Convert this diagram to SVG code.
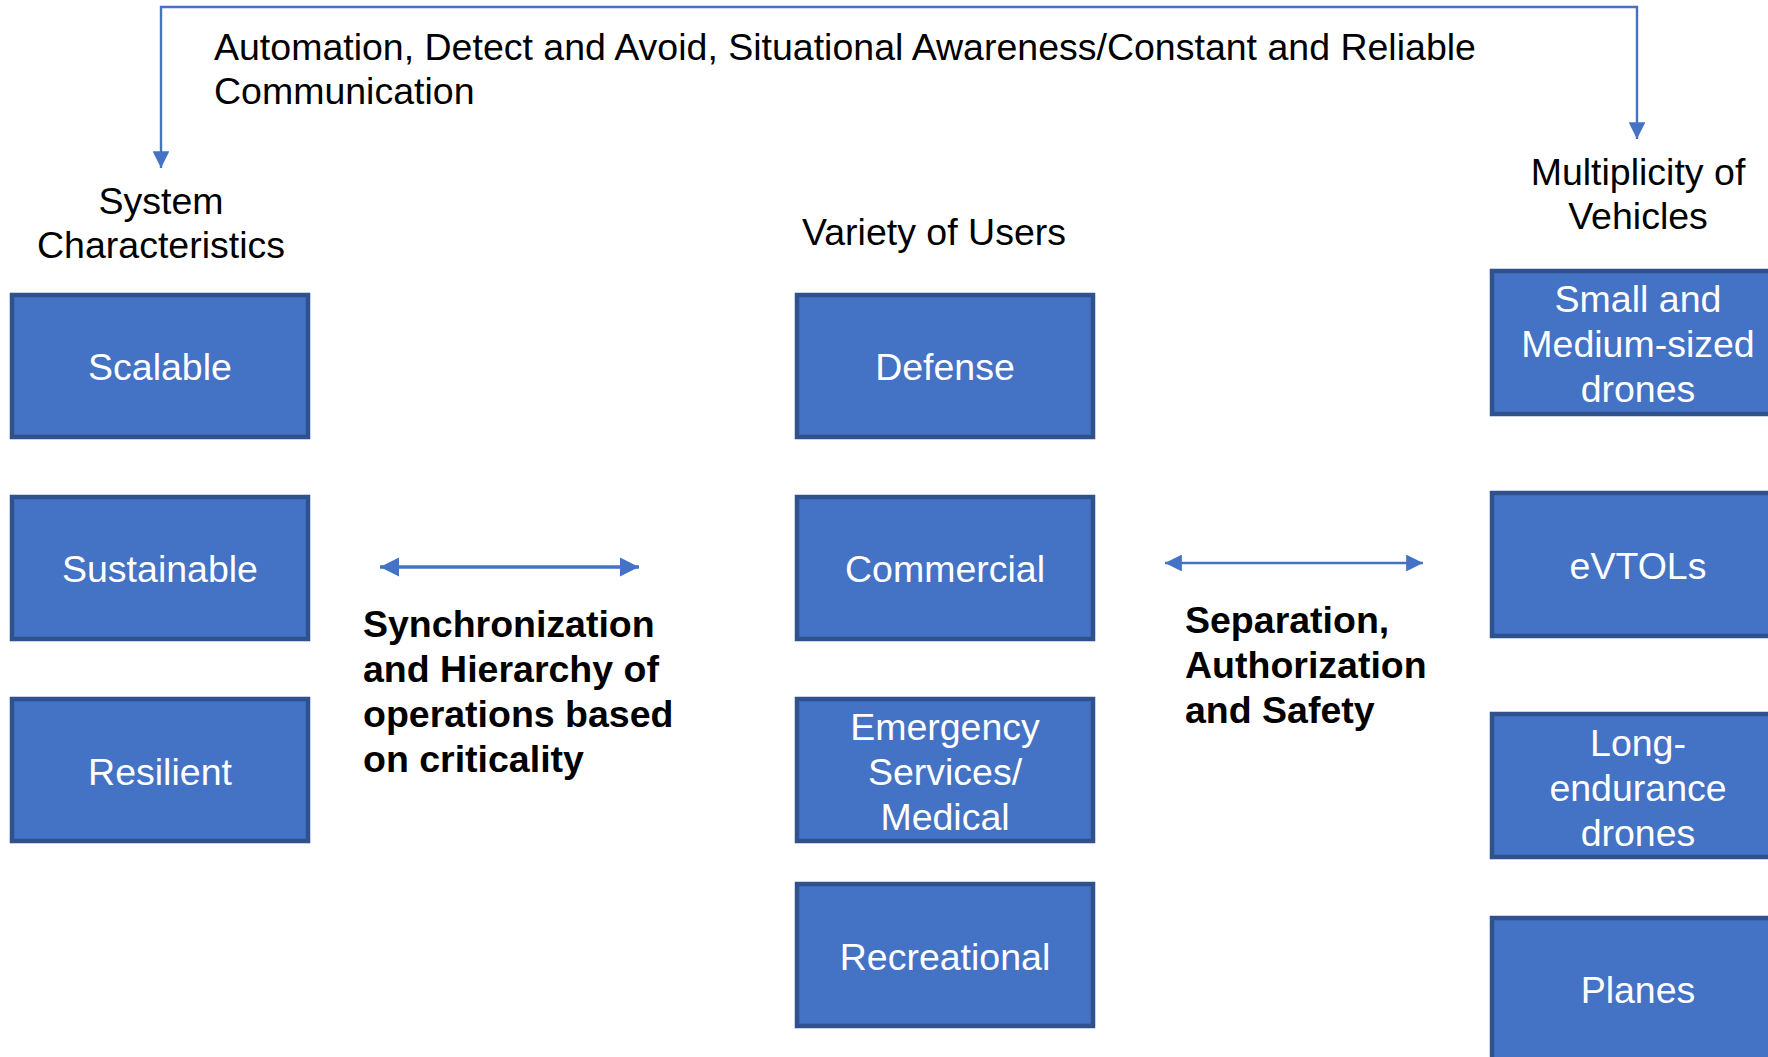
<svg xmlns="http://www.w3.org/2000/svg" width="1768" height="1057" viewBox="0 0 1768 1057">
<defs>
<style>
.box{fill:#4472C4;stroke:#2F528F;stroke-width:4.5}
.bt{fill:#fff;font-family:"Liberation Sans",Arial,sans-serif;font-size:37.5px;text-anchor:middle}
.hd{fill:#000;font-family:"Liberation Sans",Arial,sans-serif;font-size:37.5px;text-anchor:middle}
.lb{fill:#000;font-family:"Liberation Sans",Arial,sans-serif;font-size:37.5px;font-weight:bold}
.tt{fill:#000;font-family:"Liberation Sans",Arial,sans-serif;font-size:37.5px}
.con{fill:none;stroke:#4472C4}
</style>
<marker id="ah" viewBox="0 0 10 10" refX="10" refY="5" markerWidth="7" markerHeight="7" orient="auto-start-reverse" markerUnits="strokeWidth">
<path d="M0,0 L10,5 L0,10 z" fill="#4472C4"/>
</marker>
<marker id="ah2" viewBox="0 0 10 10" refX="10" refY="5" markerWidth="5.5" markerHeight="5.5" orient="auto-start-reverse" markerUnits="strokeWidth">
<path d="M0,0 L10,5 L0,10 z" fill="#4472C4"/>
</marker>
<marker id="ah3" viewBox="0 0 10 10" refX="10" refY="5" markerWidth="6.5" markerHeight="6.5" orient="auto-start-reverse" markerUnits="strokeWidth">
<path d="M0,0 L10,5 L0,10 z" fill="#4472C4"/>
</marker>
</defs>
<rect width="1768" height="1057" fill="#fff"/>
<g id="connectors">
<path class="con" d="M161,168 L161,7 L1637,7 L1637,139" stroke-width="2.4" marker-start="url(#ah)" marker-end="url(#ah)"/>
<line class="con" x1="380" y1="567" x2="639" y2="567" stroke-width="3.5" marker-start="url(#ah2)" marker-end="url(#ah2)"/>
<line class="con" x1="1165" y1="563" x2="1423" y2="563" stroke-width="2.6" marker-start="url(#ah3)" marker-end="url(#ah3)"/>
</g>
<g id="label-top">
<text class="tt" x="214" y="60">Automation, Detect and Avoid, Situational Awareness/Constant and Reliable</text>
<text class="tt" x="214" y="104">Communication</text>
</g>
<g id="header-system"><text class="hd" x="161" y="214">System</text><text class="hd" x="161" y="258">Characteristics</text></g>
<g id="header-users"><text class="hd" x="934" y="245">Variety of Users</text></g>
<g id="header-vehicles"><text class="hd" x="1638" y="185">Multiplicity of</text><text class="hd" x="1638" y="229">Vehicles</text></g>
<g id="n-scalable"><rect class="box" x="12" y="295" width="296" height="142"/><text class="bt" x="160" y="380">Scalable</text></g>
<g id="n-sustainable"><rect class="box" x="12" y="497" width="296" height="142"/><text class="bt" x="160" y="582">Sustainable</text></g>
<g id="n-resilient"><rect class="box" x="12" y="699" width="296" height="142"/><text class="bt" x="160" y="785">Resilient</text></g>
<g id="n-defense"><rect class="box" x="797" y="295" width="296" height="142"/><text class="bt" x="945" y="380">Defense</text></g>
<g id="n-commercial"><rect class="box" x="797" y="497" width="296" height="142"/><text class="bt" x="945" y="582">Commercial</text></g>
<g id="n-emergency"><rect class="box" x="797" y="699" width="296" height="142"/><text class="bt" x="945" y="740">Emergency</text><text class="bt" x="945" y="785">Services/</text><text class="bt" x="945" y="830">Medical</text></g>
<g id="n-recreational"><rect class="box" x="797" y="884" width="296" height="142"/><text class="bt" x="945" y="970">Recreational</text></g>
<g id="n-small"><rect class="box" x="1492" y="271" width="296" height="143"/><text class="bt" x="1638" y="312">Small and</text><text class="bt" x="1638" y="357">Medium-sized</text><text class="bt" x="1638" y="402">drones</text></g>
<g id="n-evtols"><rect class="box" x="1492" y="493" width="296" height="143"/><text class="bt" x="1638" y="579">eVTOLs</text></g>
<g id="n-long"><rect class="box" x="1492" y="714" width="296" height="143"/><text class="bt" x="1638" y="756">Long-</text><text class="bt" x="1638" y="801">endurance</text><text class="bt" x="1638" y="846">drones</text></g>
<g id="n-planes"><rect class="box" x="1492" y="918" width="296" height="160"/><text class="bt" x="1638" y="1003">Planes</text></g>
<g id="label-sync">
<text class="lb" x="363" y="637">Synchronization</text>
<text class="lb" x="363" y="682">and Hierarchy of</text>
<text class="lb" x="363" y="727">operations based</text>
<text class="lb" x="363" y="772">on criticality</text>
</g>
<g id="label-sep">
<text class="lb" x="1185" y="633">Separation,</text>
<text class="lb" x="1185" y="678">Authorization</text>
<text class="lb" x="1185" y="723">and Safety</text>
</g>
</svg>
